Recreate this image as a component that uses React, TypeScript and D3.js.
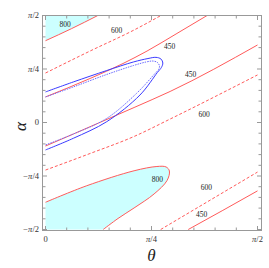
import React from "react";
import * as d3 from "d3";

// data in degrees: [theta, alpha]
const curve800Top: [number, number][] = [[0, 68.8], [11, 78.9], [22.2, 90]];
const curve600Top: [number, number][] = [[0, 41.6], [18.9, 60.1], [37.6, 77.8], [49.0, 90]];
const curve450Top: [number, number][] = [[0, 21.5], [18.9, 37.0], [32.9, 49.6], [43.1, 60.1], [55.8, 74.9], [68.6, 90]];
const curve450Mid: [number, number][] = [[0, -19.8], [11.8, -9.7], [37.6, 12.6], [52.9, 26.1], [90, 65.2]];
const curve600Mid: [number, number][] = [[0, -40.0], [18.9, -26.1], [38, -11.4], [52.9, 2.9], [90, 40.0]];
const curve800Bottom: [number, number][] = [
  [0, -67.1], [17.5, -53.2], [37.6, -40.6], [47.3, -37.0], [51.2, -37.4], [52.6, -40.8],
  [51.6, -48.8], [46.1, -60.1], [37.6, -71.9], [30.8, -80.7], [24.5, -90],
];
const curve600Bottom: [number, number][] = [[48.9, -90], [69.4, -65.9], [90, -41.7]];
const curve450Bottom: [number, number][] = [[60.6, -90], [75.3, -73.9], [90, -57.5]];
const blueSolid: [number, number][] = [
  [0, 25.7], [11.8, 34.1], [26.0, 43.7], [37.3, 50.9], [43.5, 53.8], [46.9, 54.8], [49.0, 53.4],
  [49.8, 50.0], [49.2, 46.3], [47.5, 42.1], [40.1, 23.1], [26.0, 0.7], [11.8, -13.3], [0, -23.1],
];
const blueDotted: [number, number][] = [
  [0, 21.5], [11.8, 29.9], [26.0, 40.4], [37.3, 47.9], [42.7, 50.9], [45.6, 51.7], [47.5, 50.5],
  [48.4, 47.5], [48.0, 44.6], [46.3, 40.8], [38.7, 24.6], [26.0, 3.5], [11.8, -9.7], [0, -18.9],
];

const labelText = ["800", "600", "450", "450", "600", "800", "600", "450"];
const labelTheta = [8.3, 30.2, 52.7, 61.6, 67.3, 47.5, 68.3, 66.3];
const labelAlpha = [82.8, 77.7, 63.6, 40.6, 6.8, -48.2, -54.7, -77.7];

const xTickValues = [0, 45, 90];
const xTickLabels = ["0", "π/4", "π/2"];
const yTickValues = [-90, -45, 0, 45, 90];
const yTickLabels = ["−π/2", "−π/4", "0", "π/4", "π/2"];

const W = 269, H = 268;
const frame = { x0: 42.5, x1: 261.5, y0: 15.5, y1: 230.5 };

function TickLabel({ s, ...rest }: any) {
  const parts = s.split("π");
  return (
    <text {...rest}>
      {parts.map((p: string, i: number) => (
        <React.Fragment key={i}>
          {i > 0 && <tspan fontStyle="italic">π</tspan>}
          {p && <tspan>{p}</tspan>}
        </React.Fragment>
      ))}
    </text>
  );
}

export default function App() {
  const x = d3.scaleLinear().domain([0, 90]).range([45.5, 257.5]);
  const y = d3.scaleLinear().domain([90, -90]).range([15.5, 229.5]);
  const mono = d3.line<[number, number]>().x(d => x(d[0])).y(d => y(d[1])).curve(d3.curveMonotoneX);
  const loop = d3.line<[number, number]>().x(d => x(d[0])).y(d => y(d[1])).curve(d3.curveCatmullRom.alpha(0.5));

  const red = "#ff5a5a";
  const minorX = d3.range(0, 91, 9);
  const minorY = d3.range(-90, 91, 9);
  const tickColor = "#999";
  const serif = "'Liberation Serif', 'DejaVu Serif', serif";

  const fillTop = mono(curve800Top) + `L${x(0)},${y(90)}Z`;
  const fillBottom = loop(curve800Bottom) + `L${x(0)},${y(-90)}Z`;

  return (
    <svg width={W} height={H} style={{ position: "absolute", left: 0, top: 0 }} fontFamily={serif}>
      <defs>
        <clipPath id="clip">
          <rect x={frame.x0} y={frame.y0} width={frame.x1 - frame.x0} height={frame.y1 - frame.y0} />
        </clipPath>
      </defs>
      <rect width={W} height={H} fill="white" />
      <g clipPath="url(#clip)">
        <path d={fillTop} fill="#ccffff" stroke="none" />
        <path d={fillBottom} fill="#ccffff" stroke="none" />
        <path d={mono(curve800Top)!} fill="none" stroke={red} strokeWidth={1} />
        <path d={loop(curve800Bottom)!} fill="none" stroke={red} strokeWidth={1} />
        <path d={mono(curve600Top)!} fill="none" stroke={red} strokeWidth={1} strokeDasharray="3,2" />
        <path d={mono(curve600Mid)!} fill="none" stroke={red} strokeWidth={1} strokeDasharray="3,2" />
        <path d={mono(curve600Bottom)!} fill="none" stroke={red} strokeWidth={1} strokeDasharray="3,2" />
        <path d={mono(curve450Top)!} fill="none" stroke={red} strokeWidth={1} />
        <path d={mono(curve450Mid)!} fill="none" stroke={red} strokeWidth={1} />
        <path d={mono(curve450Bottom)!} fill="none" stroke={red} strokeWidth={1} />
        <path d={loop(blueSolid)!} fill="none" stroke="#3a3aff" strokeWidth={1} />
        <path d={loop(blueDotted)!} fill="none" stroke="#6b6bff" strokeWidth={1} strokeDasharray="1.5,1" />
      </g>
      {labelText.map((t, i) => (
        <text key={i} x={x(labelTheta[i])} y={y(labelAlpha[i])} textAnchor="middle" dominantBaseline="central" fontSize={7.5} fill="#222">
          {t}
        </text>
      ))}
      <rect x={frame.x0} y={frame.y0} width={frame.x1 - frame.x0} height={frame.y1 - frame.y0} fill="none" stroke={tickColor} strokeWidth={1} />
      {minorX.map(v => {
        const len = v % 45 === 0 ? 4.5 : 3;
        return (
          <g key={"x" + v}>
            <line x1={x(v)} x2={x(v)} y1={frame.y1} y2={frame.y1 - len} stroke={tickColor} />
            <line x1={x(v)} x2={x(v)} y1={frame.y0} y2={frame.y0 + len} stroke={tickColor} />
          </g>
        );
      })}
      {minorY.map(v => {
        const len = v % 45 === 0 ? 4.5 : 3;
        return (
          <g key={"y" + v}>
            <line x1={frame.x0} x2={frame.x0 + len} y1={y(v)} y2={y(v)} stroke={tickColor} />
            <line x1={frame.x1} x2={frame.x1 - len} y1={y(v)} y2={y(v)} stroke={tickColor} />
          </g>
        );
      })}
      {xTickValues.map((v, i) => (
        <TickLabel key={"xl" + v} s={xTickLabels[i]} x={x(v)} y={242} textAnchor="middle" fontSize={8.5} fill="#333" />
      ))}
      {yTickValues.map((v, i) => (
        <TickLabel key={"yl" + v} s={yTickLabels[i]} x={39} y={y(v)} dy="0.33em" textAnchor="end" fontSize={8.5} fill="#333" />
      ))}
      <text x={151.5} y={261} textAnchor="middle" fontSize={17} fontStyle="italic" fill="#222">θ</text>
      <text transform={`translate(26,${y(0) + 4}) rotate(-90)`} textAnchor="middle" fontSize={17} fontStyle="italic" fill="#222">α</text>
    </svg>
  );
}
